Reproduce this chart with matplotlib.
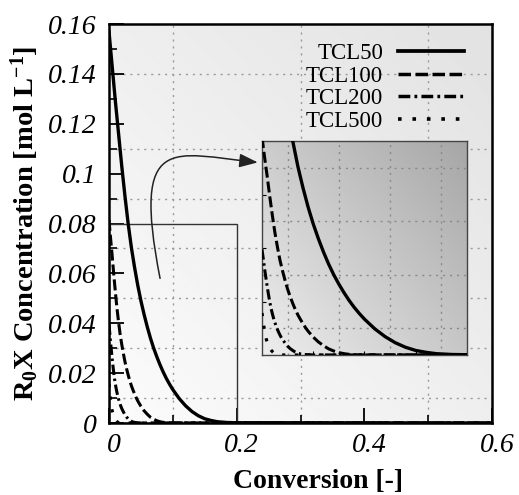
import matplotlib
matplotlib.use("Agg")
import matplotlib.pyplot as plt
import matplotlib.transforms as mtransforms
from matplotlib.lines import Line2D
from matplotlib.patches import FancyArrowPatch, Rectangle
from matplotlib.path import Path
import numpy as np

plt.rcParams['font.family'] = 'Liberation Serif'
plt.rcParams['mathtext.default'] = 'regular'

# curve readings (conversion, concentration)
tcl50_x = [0, 0.005, 0.010, 0.015, 0.020, 0.025, 0.030, 0.035, 0.040, 0.045, 0.050,
           0.055, 0.060, 0.065, 0.070, 0.075, 0.080, 0.085, 0.090, 0.095, 0.100,
           0.110, 0.120, 0.130, 0.140, 0.150, 0.160, 0.170, 0.185, 0.200, 0.60]
tcl50_y = [0.157, 0.143, 0.129, 0.116, 0.103, 0.091, 0.080, 0.0705, 0.0625, 0.0553, 0.049,
           0.0435, 0.0385, 0.034, 0.030, 0.0265, 0.0233, 0.0204, 0.0178, 0.0155, 0.0134,
           0.0098, 0.0069, 0.0046, 0.0029, 0.0017, 0.0010, 0.0005, 0.0002, 0.0001, 0]

tcl100_x = [0, 0.0025, 0.005, 0.0075, 0.010, 0.0125, 0.015, 0.0175, 0.020, 0.0225,
            0.025, 0.0275, 0.030, 0.0325, 0.035, 0.0375, 0.040, 0.0425, 0.045, 0.0475,
            0.050, 0.055, 0.060, 0.065, 0.070, 0.075, 0.080, 0.085, 0.0925, 0.10, 0.60]
tcl100_y = [0.0815, 0.074, 0.067, 0.0595, 0.0525, 0.046, 0.0405, 0.0355, 0.0315, 0.0279,
            0.0246, 0.0218, 0.0193, 0.017, 0.015, 0.0133, 0.0117, 0.0102, 0.0089, 0.0078,
            0.0067, 0.0049, 0.0035, 0.0023, 0.0015, 0.0009, 0.0005, 0.00025, 0.0001, 0.00005, 0]

tcl200_x = [0, 0.00125, 0.0025, 0.00375, 0.005, 0.00625, 0.0075, 0.00875, 0.010,
            0.01125, 0.0125, 0.01375, 0.015, 0.01625, 0.0175, 0.01875, 0.020, 0.0225,
            0.025, 0.0275, 0.030, 0.0325, 0.035, 0.0375, 0.040, 0.045, 0.05, 0.60]
tcl200_y = [0.0395, 0.036, 0.0323, 0.029, 0.0258, 0.0228, 0.020, 0.0176, 0.0156,
            0.0138, 0.0122, 0.0109, 0.0096, 0.0085, 0.0075, 0.0066, 0.0058, 0.0045,
            0.0033, 0.0024, 0.0017, 0.0011, 0.0007, 0.0004, 0.00025, 0.0001, 0.00003, 0]

tcl500_x = [0, 0.0005, 0.001, 0.0015, 0.002, 0.0025, 0.003, 0.0035, 0.004, 0.0045,
            0.005, 0.006, 0.007, 0.008, 0.009, 0.010, 0.011, 0.012, 0.013, 0.014,
            0.015, 0.016, 0.018, 0.02, 0.60]
tcl500_y = [0.0157, 0.0143, 0.0129, 0.0116, 0.0103, 0.0091, 0.0080, 0.00705, 0.00625, 0.0055,
            0.0049, 0.00385, 0.0030, 0.00233, 0.00178, 0.00134, 0.00098, 0.00069, 0.00046, 0.00029,
            0.00017, 0.0001, 0.00004, 0.00001, 0]

labels = ['TCL50', 'TCL100', 'TCL200', 'TCL500']
xs = [tcl50_x, tcl100_x, tcl200_x, tcl500_x]
ys = [tcl50_y, tcl100_y, tcl200_y, tcl500_y]
styles = ['-', (0, (3.6, 1.3)), (0, (3.4, 1.2, 0.8, 1.2)), (0, (1, 3))]
widths = [2.4, 2.2, 2.2, 2.3]

xticks = [0, 0.2, 0.4, 0.6]
xticklabels = ['0', '0.2', '0.4', '0.6']
yticks = [0, 0.02, 0.04, 0.06, 0.08, 0.1, 0.12, 0.14, 0.16]
yticklabels = ['0', '0.02', '0.04', '0.06', '0.08', '0.1', '0.12', '0.14', '0.16']
grid_x = [0.1, 0.3, 0.5]
grid_y = [0.01, 0.03, 0.05, 0.07, 0.09, 0.11, 0.14]
inset_grid_x = [0.025, 0.075, 0.125, 0.175]
inset_grid_y = [0.01, 0.03, 0.05, 0.07]

fig = plt.figure(figsize=(5.19, 4.95), dpi=100)
ax = fig.add_axes([0.2100, 0.14545, 0.7380, 0.80606])
ax.set_xlim(0, 0.6)
ax.set_ylim(0, 0.16)

# background gradient
u, v = np.meshgrid(np.linspace(0, 1, 200), np.linspace(0, 1, 200))
ax.imshow(0.985 - 0.05 * u - 0.05 * v, extent=[0, 0.6, 0, 0.16], origin='lower',
          cmap='gray', vmin=0, vmax=1, aspect='auto', zorder=0, interpolation='bilinear')

for gx in grid_x:
    ax.axvline(gx, color='#9a9a9a', lw=1, ls=(0, (1.5, 3.5)), zorder=1)
for gy in grid_y:
    ax.axhline(gy, color='#9a9a9a', lw=1, ls=(0, (1.5, 3.5)), zorder=1)

for x, y, ls, lw, lab in zip(xs, ys, styles, widths, labels):
    ax.plot(x, y, color='black', ls=ls, lw=lw, zorder=3, label=lab)

ax.add_patch(Rectangle((0, 0), 0.2, 0.08, fill=False, ec='#333333', lw=1, zorder=2))

ax.set_xticks(xticks)
ax.set_xticklabels(xticklabels)
ax.set_yticks(yticks)
ax.set_yticklabels(yticklabels)
ax.set_xticks([0.1, 0.3, 0.5], minor=True)
ax.set_yticks(np.arange(0.01, 0.16, 0.02), minor=True)
ax.tick_params(which='major', direction='in', length=11, width=1.3, labelsize=20, pad=7)
ax.tick_params(axis='y', which='major', pad=9)
ax.tick_params(which='minor', direction='in', length=5.5, width=1.2)
for lbl in ax.get_xticklabels() + ax.get_yticklabels():
    lbl.set_fontstyle('italic')
off = mtransforms.ScaledTranslation(5 / 100, 0, fig.dpi_scale_trans)
for lbl in ax.get_xticklabels():
    lbl.set_transform(lbl.get_transform() + off)
for s in ax.spines.values():
    s.set_linewidth(1.8)

ax.set_xlabel('Conversion [-]', fontsize=20, fontweight='bold', labelpad=6)
ax.xaxis.set_label_coords(0.545, -0.115)
ax.set_ylabel('R$_0$X Concentration [mol L$^{-1}$]', fontsize=20.5, fontweight='bold')
ax.yaxis.set_label_coords(-0.178, 0.5)

# legend drawn by hand so the labels sit right-aligned
leg_line_y = [0.9323, 0.8747, 0.8195, 0.7619]
leg_text_y = [0.9123, 0.8546, 0.7995, 0.7419]
for lab, ls, lw, ly, ty in zip(labels, styles, widths, leg_line_y, leg_text_y):
    ax.text(0.7154, ty, lab, transform=ax.transAxes, ha='right', va='baseline',
            fontsize=16.5, zorder=4)
    ax.add_line(Line2D([0.7546, 0.9269], [ly, ly], transform=ax.transAxes,
                       color='black', ls=ls, lw=lw + 0.3, zorder=4))

# curved arrow to the inset
verts = [(0.080, 0.058), (0.035, 0.117), (0.100, 0.108), (0.233, 0.1045)]
codes = [Path.MOVETO, Path.CURVE4, Path.CURVE4, Path.CURVE4]
arrow = FancyArrowPatch(path=Path(verts, codes), arrowstyle='-|>,head_length=0.8,head_width=0.3',
                        mutation_scale=14, color='#222222', lw=1.1, zorder=3)
ax.add_patch(arrow)

# inset
ins = fig.add_axes([0.5048, 0.2828, 0.3950, 0.4323])
ins.set_xlim(0, 0.2)
ins.set_ylim(0, 0.08)
ins.imshow(0.93 - 0.15 * u - 0.13 * v, extent=[0, 0.2, 0, 0.08], origin='lower',
           cmap='gray', vmin=0, vmax=1, aspect='auto', zorder=0, interpolation='bilinear')
for gx in inset_grid_x:
    ins.axvline(gx, color='#8a8a8a', lw=1, ls=(0, (1.5, 3.5)), zorder=1)
for gy in inset_grid_y:
    ins.axhline(gy, color='#8a8a8a', lw=1, ls=(0, (1.5, 3.5)), zorder=1)
for x, y, ls, lw in zip(xs, ys, styles, widths):
    ins.plot(x, y, color='black', ls=ls, lw=lw, zorder=3)
ins.set_xticks([0.05, 0.1, 0.15])
ins.set_yticks([0.02, 0.04, 0.06])
ins.tick_params(direction='in', length=3, width=0.8, labelbottom=False, labelleft=False)
for s in ins.spines.values():
    s.set_linewidth(1)
    s.set_color('#444444')

fig.savefig('out.png', dpi=100)
